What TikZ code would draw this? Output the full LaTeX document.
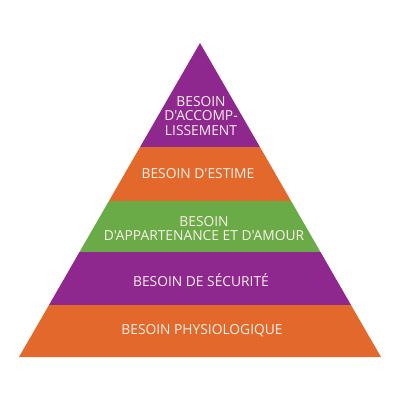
\documentclass[tikz,border=0pt]{standalone}
\usepackage{fontspec}
\setmainfont{Open Sans}[Ligatures=TeXOff]
\definecolor{pviolet}{HTML}{8E278E}
\definecolor{porange}{HTML}{E2692B}
\definecolor{pgreen}{HTML}{6BAB47}
\definecolor{ptext}{HTML}{FBF1EC}
\begin{document}
\begin{tikzpicture}[x=1pt,y=-1pt,
  lbl/.style={text=ptext,font=\fontsize{13.8}{14.3}\selectfont,align=center,inner sep=0pt}]
\useasboundingbox (0,0) rectangle (400,400);
\fill[pviolet] (200,43) -- (259.95,147) -- (140.05,147) -- cycle;
\fill[porange] (140.05,147) -- (259.95,147) -- (291.1,201) -- (108.9,201) -- cycle;
\fill[pgreen] (108.9,201) -- (291.1,201) -- (320.5,252) -- (79.5,252) -- cycle;
\fill[pviolet] (79.5,252) -- (320.5,252) -- (351,305) -- (49,305) -- cycle;
\fill[porange] (49,305) -- (351,305) -- (381,357) -- (19,357) -- cycle;
\node[lbl] (l5) at (201,116) {BESOIN\\D'ACCOMP-\\LISSEMENT};
\node[lbl] (l4) at (198,173.5) {BESOIN D'ESTIME};
\node[lbl] (l3) at (204,228.5) {BESOIN\\D'APPARTENANCE ET D'AMOUR};
\node[lbl] (l2) at (201,280.5) {BESOIN DE SÉCURITÉ};
\node[lbl] (l1) at (202,331) {BESOIN PHYSIOLOGIQUE};
\end{tikzpicture}
\end{document}
